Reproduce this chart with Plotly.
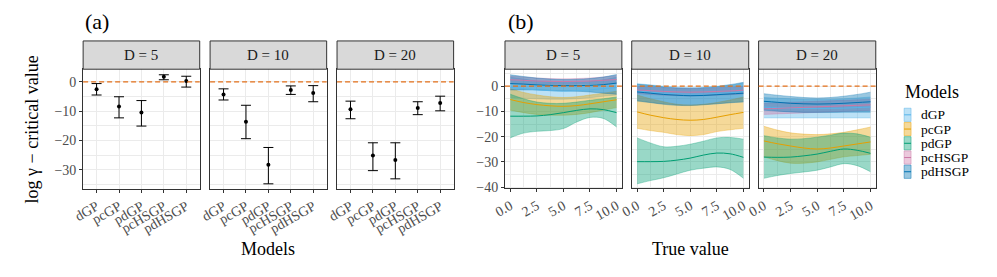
import plotly.graph_objects as go

# ---------------- data ----------------
models = ["dGP", "pcGP", "pdGP", "pcHSGP", "pdHSGP"]
model_colors = ["#56B4E9", "#E69F00", "#009E73", "#CC79A7", "#0072B2"]
facet_labels = ["D = 5", "D = 10", "D = 20"]
ref_value = 0

# (a) point estimates and intervals per model
a_D5_mid = [-2.5, -8.4, -10.5, 1.7, 0.3]
a_D5_lo = [-4.5, -12.3, -15.1, 0.7, -1.8]
a_D5_hi = [-0.6, -5.1, -6.4, 2.4, 1.9]
a_D10_mid = [-4.3, -13.6, -28.3, -2.8, -3.8]
a_D10_lo = [-6.2, -19.4, -34.8, -4.3, -6.8]
a_D10_hi = [-2.4, -8.0, -22.4, -1.4, -1.3]
a_D20_mid = [-9.4, -25.1, -26.7, -8.9, -7.2]
a_D20_lo = [-12.6, -30.3, -33.1, -11.2, -9.9]
a_D20_hi = [-6.6, -20.8, -20.8, -6.8, -4.9]

# (b) curves over true value
true_value = [0, 1.25, 2.5, 3.75, 5, 6.25, 7.5, 8.75, 10]

D5_dGP_mid = [-0.5, -1.0, -1.5, -1.8, -2.0, -1.8, -1.5, -1.0, -0.5]
D5_dGP_lo = [-4.5, -4.8, -5.0, -5.2, -5.2, -5.0, -4.6, -4.0, -3.5]
D5_dGP_hi = [3.5, 2.8, 2.0, 1.6, 1.4, 1.5, 1.8, 2.5, 3.5]
D5_pcGP_mid = [-5.3, -6.5, -7.3, -7.8, -8.0, -7.7, -7.0, -6.2, -5.4]
D5_pcGP_lo = [-9.5, -10.5, -11.2, -11.5, -11.5, -11.2, -10.5, -9.5, -8.5]
D5_pcGP_hi = [-1.0, -2.5, -3.5, -4.2, -4.5, -4.2, -3.5, -2.8, -2.0]
D5_pdGP_mid = [-11.9, -11.9, -11.8, -11.3, -10.5, -9.6, -9.0, -9.3, -10.5]
D5_pdGP_lo = [-20.5, -18.6, -17.9, -17.6, -16.8, -14.2, -12.4, -12.8, -16.2]
D5_pdGP_hi = [-3.2, -5.0, -6.3, -6.8, -6.8, -6.3, -5.6, -5.0, -4.3]
D5_pcHSGP_mid = [2.5, 2.3, 2.0, 1.9, 1.8, 1.9, 2.0, 2.3, 2.6]
D5_pcHSGP_lo = [1.0, 1.0, 0.9, 0.8, 0.7, 0.8, 0.9, 1.0, 1.0]
D5_pcHSGP_hi = [4.0, 3.6, 3.2, 3.0, 2.9, 3.0, 3.2, 3.6, 4.2]
D5_pdHSGP_mid = [1.0, 0.8, 0.5, 0.3, 0.2, 0.2, 0.3, 0.6, 1.2]
D5_pdHSGP_lo = [-1.5, -1.5, -1.5, -1.7, -1.8, -2.0, -2.3, -2.8, -3.2]
D5_pdHSGP_hi = [4.5, 3.8, 3.2, 2.8, 2.6, 2.7, 3.0, 3.6, 4.6]

D10_dGP_mid = [-2.0, -2.4, -2.8, -3.0, -3.2, -3.1, -2.9, -2.6, -2.2]
D10_dGP_lo = [-6.0, -6.5, -7.0, -7.5, -7.5, -7.3, -7.0, -6.5, -6.0]
D10_dGP_hi = [1.0, 0.5, 0.0, -0.3, -0.5, -0.4, -0.2, 0.3, 1.2]
D10_pcGP_mid = [-10.2, -11.5, -12.5, -13.2, -13.5, -13.2, -12.3, -11.3, -10.4]
D10_pcGP_lo = [-16.7, -17.6, -18.3, -19.2, -19.6, -19.2, -18.0, -17.3, -16.7]
D10_pcGP_hi = [-3.5, -5.0, -6.2, -7.2, -7.5, -7.2, -6.5, -5.5, -4.3]
D10_pdGP_mid = [-29.9, -29.9, -29.8, -29.3, -28.5, -27.3, -26.5, -26.8, -28.2]
D10_pdGP_lo = [-38.7, -37.4, -36.3, -34.8, -33.3, -32.5, -32.0, -33.0, -36.5]
D10_pdGP_hi = [-20.5, -22.5, -24.0, -23.8, -23.0, -21.8, -20.5, -20.3, -21.0]
D10_pcHSGP_mid = [-1.5, -1.8, -2.1, -2.3, -2.4, -2.3, -2.1, -1.9, -1.6]
D10_pcHSGP_lo = [-3.0, -3.3, -3.6, -3.8, -3.9, -3.8, -3.6, -3.4, -3.1]
D10_pcHSGP_hi = [0.0, -0.3, -0.6, -0.8, -0.9, -0.8, -0.6, -0.4, -0.1]
D10_pdHSGP_mid = [-2.3, -2.8, -3.3, -3.6, -3.8, -3.7, -3.4, -3.1, -2.8]
D10_pdHSGP_lo = [-5.8, -6.5, -7.2, -7.6, -7.7, -7.4, -7.0, -6.6, -6.3]
D10_pdHSGP_hi = [0.7, 0.3, -0.3, -0.7, -0.9, -0.6, -0.1, 0.6, 1.5]

D20_dGP_mid = [-8.3, -8.5, -8.7, -8.8, -8.9, -8.8, -8.7, -8.5, -8.3]
D20_dGP_lo = [-12.6, -12.6, -12.6, -12.6, -12.6, -12.6, -12.6, -12.6, -12.6]
D20_dGP_hi = [-4.5, -4.8, -5.0, -5.2, -5.3, -5.2, -5.0, -4.7, -4.3]
D20_pcGP_mid = [-21.7, -22.8, -23.7, -24.5, -24.9, -24.5, -23.7, -22.9, -22.1]
D20_pcGP_lo = [-28.0, -29.5, -30.5, -30.5, -30.0, -29.0, -28.0, -27.5, -27.0]
D20_pcGP_hi = [-15.9, -17.4, -18.5, -19.0, -19.2, -18.9, -18.3, -17.3, -16.2]
D20_pdGP_mid = [-28.1, -28.2, -28.1, -27.6, -26.9, -25.8, -24.9, -25.4, -26.6]
D20_pdGP_lo = [-36.5, -35.4, -34.6, -34.0, -33.3, -32.0, -30.7, -31.5, -33.9]
D20_pdGP_hi = [-19.6, -20.5, -21.0, -20.8, -20.2, -19.4, -18.6, -18.9, -20.2]
D20_pcHSGP_mid = [-9.0, -8.8, -8.6, -8.4, -8.2, -8.0, -7.8, -7.6, -7.4]
D20_pcHSGP_lo = [-11.2, -11.0, -10.8, -10.6, -10.4, -10.2, -10.0, -9.8, -9.6]
D20_pcHSGP_hi = [-6.8, -6.6, -6.4, -6.2, -6.0, -5.8, -5.6, -5.4, -5.2]
D20_pdHSGP_mid = [-6.0, -6.4, -6.8, -7.0, -7.1, -7.0, -6.8, -6.5, -6.2]
D20_pdHSGP_lo = [-9.5, -9.9, -10.2, -10.4, -10.4, -10.4, -10.3, -10.3, -10.3]
D20_pdHSGP_hi = [-3.0, -3.6, -4.1, -4.5, -4.7, -4.5, -4.0, -3.3, -2.4]

# ---------------- assemble tables ----------------
a_panels = [
    (a_D5_mid, a_D5_lo, a_D5_hi),
    (a_D10_mid, a_D10_lo, a_D10_hi),
    (a_D20_mid, a_D20_lo, a_D20_hi),
]
b_panels = [
    [(D5_dGP_mid, D5_dGP_lo, D5_dGP_hi), (D5_pcGP_mid, D5_pcGP_lo, D5_pcGP_hi),
     (D5_pdGP_mid, D5_pdGP_lo, D5_pdGP_hi), (D5_pcHSGP_mid, D5_pcHSGP_lo, D5_pcHSGP_hi),
     (D5_pdHSGP_mid, D5_pdHSGP_lo, D5_pdHSGP_hi)],
    [(D10_dGP_mid, D10_dGP_lo, D10_dGP_hi), (D10_pcGP_mid, D10_pcGP_lo, D10_pcGP_hi),
     (D10_pdGP_mid, D10_pdGP_lo, D10_pdGP_hi), (D10_pcHSGP_mid, D10_pcHSGP_lo, D10_pcHSGP_hi),
     (D10_pdHSGP_mid, D10_pdHSGP_lo, D10_pdHSGP_hi)],
    [(D20_dGP_mid, D20_dGP_lo, D20_dGP_hi), (D20_pcGP_mid, D20_pcGP_lo, D20_pcGP_hi),
     (D20_pdGP_mid, D20_pdGP_lo, D20_pdGP_hi), (D20_pcHSGP_mid, D20_pcHSGP_lo, D20_pcHSGP_hi),
     (D20_pdHSGP_mid, D20_pdHSGP_lo, D20_pdHSGP_hi)],
]

# ---------------- layout geometry (pixels) ----------------
W, H = 997, 277
FONT = "Liberation Serif, Times New Roman, Times, serif"
LEFT_P = [(72, 190), (200.5, 318.5), (329, 447)]
RIGHT_P = [(499, 617.3), (627.3, 745.7), (755.7, 874.3)]
P_TOP, P_BOT_L, P_BOT_R, S_TOP = 71, 194, 193.3, 42


def fx(p):
    return p / W


def fy(p):
    return 1 - p / H


def rgba(h, a):
    h = h.lstrip("#")
    return "rgba(%d,%d,%d,%.2f)" % (int(h[0:2], 16), int(h[2:4], 16), int(h[4:6], 16), a)


fig = go.Figure()
GRID = "#EBEBEB"
TICKC = "#333333"
TICKF = dict(family=FONT, size=14, color="#4D4D4D")

# ----- (a) error bars -----
for j, (mid, lo, hi) in enumerate(a_panels):
    k = j + 1
    fig.add_trace(go.Scatter(
        x=models, y=mid, mode="markers",
        marker=dict(color="black", size=4),
        error_y=dict(type="data", symmetric=False,
                     array=[h - m for h, m in zip(hi, mid)],
                     arrayminus=[m - l for m, l in zip(mid, lo)],
                     color="black", thickness=1, width=5),
        xaxis="x" if k == 1 else "x%d" % k, yaxis="y" if k == 1 else "y%d" % k,
        showlegend=False, hoverinfo="skip"))

# ----- (b) ribbons then lines -----
for j, panel in enumerate(b_panels):
    k = j + 4
    xa, ya = "x%d" % k, "y%d" % k
    for m, (mid, lo, hi) in enumerate(panel):
        c = model_colors[m]
        fig.add_trace(go.Scatter(x=true_value, y=lo, mode="lines", line=dict(color=rgba(c, 0.55), width=0.6, shape="spline"),
                                 xaxis=xa, yaxis=ya, showlegend=False, hoverinfo="skip"))
        fig.add_trace(go.Scatter(x=true_value, y=hi, mode="lines", line=dict(color=rgba(c, 0.55), width=0.6, shape="spline"),
                                 fill="tonexty", fillcolor=rgba(c, 0.4),
                                 xaxis=xa, yaxis=ya, showlegend=False, hoverinfo="skip"))
    for m, (mid, lo, hi) in enumerate(panel):
        c = model_colors[m]
        fig.add_trace(go.Scatter(x=true_value, y=mid, mode="lines", line=dict(color=c, width=1, shape="spline"),
                                 xaxis=xa, yaxis=ya, showlegend=False, hoverinfo="skip"))

layout = dict(
    width=W, height=H, margin=dict(l=0, r=0, t=0, b=0),
    paper_bgcolor="white", plot_bgcolor="white",
    font=dict(family=FONT, color="black"),
    showlegend=False,
)

shapes = []
annotations = []

all_panels = [(p, P_BOT_L) for p in LEFT_P] + [(p, P_BOT_R) for p in RIGHT_P]
for i, ((x0, x1), pb) in enumerate(all_panels):
    k = i + 1
    xname = "xaxis" if k == 1 else "xaxis%d" % k
    yname = "yaxis" if k == 1 else "yaxis%d" % k
    left_group = k <= 3
    xax = dict(domain=[fx(x0), fx(x1)], anchor="y" if k == 1 else "y%d" % k,
               showline=True, mirror=True, linecolor=TICKC, linewidth=1,
               showgrid=True, gridcolor=GRID, gridwidth=1.2, zeroline=False,
               ticks="outside", ticklen=3, tickwidth=1, tickcolor=TICKC,
               tickfont=TICKF, tickangle=-30)
    yax = dict(domain=[fy(pb), fy(P_TOP)], anchor="x" if k == 1 else "x%d" % k,
               showline=True, mirror=True, linecolor=TICKC, linewidth=1,
               showgrid=True, gridcolor=GRID, gridwidth=1.2, zeroline=False,
               tickfont=TICKF, dtick=10, tick0=0,
               minor=dict(dtick=5, tick0=0, showgrid=True, gridcolor=GRID, gridwidth=0.6, ticks=""))
    if left_group:
        xax.update(type="category", categoryorder="array", categoryarray=models, range=[-0.6, 4.6])
        yax.update(range=[-36.6, 4.3])
    else:
        xax.update(range=[-0.5, 10.5], dtick=2.5, tick0=0, tickformat=".1f",
                   minor=dict(dtick=1.25, tick0=0, showgrid=True, gridcolor=GRID, gridwidth=0.6, ticks=""))
        yax.update(range=[-40.5, 6.7])
    if k in (1, 4):
        yax.update(ticks="outside", ticklen=3, tickwidth=1, tickcolor=TICKC, showticklabels=True)
    else:
        yax.update(ticks="", showticklabels=False)
    layout[xname] = xax
    layout[yname] = yax

    # strip
    shapes.append(dict(type="rect", xref="paper", yref="paper",
                       x0=fx(x0), x1=fx(x1), y0=fy(P_TOP), y1=fy(S_TOP),
                       fillcolor="#D9D9D9", line=dict(color=TICKC, width=1), layer="above"))
    annotations.append(dict(text=facet_labels[i % 3], xref="paper", yref="paper",
                            x=fx((x0 + x1) / 2), y=fy((S_TOP + P_TOP) / 2),
                            xanchor="center", yanchor="middle", showarrow=False,
                            font=dict(family=FONT, size=15, color="#1A1A1A")))
    # reference line
    shapes.append(dict(type="line", xref=("x" if k == 1 else "x%d" % k) + " domain",
                       yref="y" if k == 1 else "y%d" % k,
                       x0=0, x1=1, y0=ref_value, y1=ref_value,
                       line=dict(color="#E3701A", width=1.3, dash="5px,3px"), layer="above"))

# titles
annotations += [
    dict(text="(a)", xref="paper", yref="paper", x=fx(72), y=fy(22), xanchor="left", yanchor="middle",
         showarrow=False, font=dict(family=FONT, size=22, color="black")),
    dict(text="(b)", xref="paper", yref="paper", x=fx(500), y=fy(22), xanchor="left", yanchor="middle",
         showarrow=False, font=dict(family=FONT, size=22, color="black")),
    dict(text="Models", xref="paper", yref="paper", x=fx(259), y=fy(255), xanchor="center", yanchor="middle",
         showarrow=False, font=dict(family=FONT, size=18, color="black")),
    dict(text="True value", xref="paper", yref="paper", x=fx(687), y=fy(255), xanchor="center", yanchor="middle",
         showarrow=False, font=dict(family=FONT, size=18, color="black")),
    dict(text="log γ − critical value", xref="paper", yref="paper", x=fx(20), y=fy(133), xanchor="center",
         yanchor="middle", textangle=-90, showarrow=False, font=dict(family=FONT, size=18, color="black")),
    dict(text="Models", xref="paper", yref="paper", x=fx(902), y=fy(94), xanchor="left", yanchor="middle",
         showarrow=False, font=dict(family=FONT, size=18, color="black")),
]

# legend (keys + labels)
KEY_X0, KEY_X1, KEY_TOP, KEY_H = 903, 910, 110.5, 14.6
for m, name in enumerate(models):
    c = model_colors[m]
    t = KEY_TOP + m * KEY_H
    shapes.append(dict(type="rect", xref="paper", yref="paper", x0=fx(KEY_X0), x1=fx(KEY_X1),
                       y0=fy(t + KEY_H - 0.5), y1=fy(t + 0.5), fillcolor=rgba(c, 0.4),
                       line=dict(color=rgba(c, 0.6), width=0.8)))
    shapes.append(dict(type="line", xref="paper", yref="paper", x0=fx(KEY_X0), x1=fx(KEY_X1),
                       y0=fy(t + KEY_H / 2), y1=fy(t + KEY_H / 2), line=dict(color=c, width=1)))
    annotations.append(dict(text=name, xref="paper", yref="paper", x=fx(919), y=fy(t + KEY_H / 2),
                            xanchor="left", yanchor="middle", showarrow=False, borderpad=0,
                            font=dict(family=FONT, size=13.5, color="black")))

layout["shapes"] = shapes
layout["annotations"] = annotations
fig.update_layout(**layout)
fig.write_html("out.html", config={"displayModeBar": False},
               post_script="document.body.style.margin='0px';document.body.style.overflow='hidden';")
